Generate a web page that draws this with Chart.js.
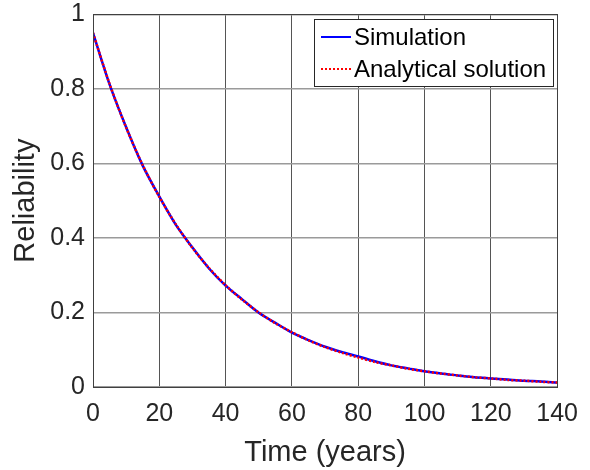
<!DOCTYPE html>
<html>
<head>
<meta charset="utf-8">
<script src="https://cdn.jsdelivr.net/npm/chart.js@4"></script>
<style>
  html, body { margin: 0; padding: 0; background: #fff; }
  #wrap { width: 590px; height: 470px; }
</style>
</head>
<body>
<div id="wrap"><canvas id="reliability-chart" width="590" height="470"></canvas></div>
<script>
const years = [0, 5, 10, 15, 20, 25, 30, 35, 40, 45, 50, 55, 60, 65, 70,
  75, 80, 85, 90, 95, 100, 105, 110, 115, 120, 125, 130, 135, 140];
const simulation = [0.950, 0.812, 0.697, 0.594, 0.511, 0.435, 0.374, 0.318, 0.272, 0.235, 0.199, 0.172, 0.146, 0.126, 0.108,
  0.094, 0.082, 0.069, 0.058, 0.050, 0.042, 0.036, 0.031, 0.026, 0.023, 0.020, 0.017, 0.015, 0.012];
const analytical = [0.950, 0.813, 0.696, 0.595, 0.510, 0.436, 0.373, 0.319, 0.273, 0.234, 0.200, 0.171, 0.147, 0.125, 0.107,
  0.092, 0.079, 0.067, 0.058, 0.049, 0.042, 0.036, 0.031, 0.026, 0.023, 0.019, 0.017, 0.014, 0.012];
const xTicks = [0, 20, 40, 60, 80, 100, 120, 140];
const yTicks = [0, 0.2, 0.4, 0.6, 0.8, 1];
const seriesNames = ['Simulation', 'Analytical solution'];

const textColor = '#262626';
const fontFamily = '"Liberation Sans", Arial, Helvetica, sans-serif';

const toPoints = (ys) => years.map((x, i) => ({ x, y: ys[i] }));

// box around the axes plus the legend in the upper right corner
const boxAndLegend = {
  id: 'boxAndLegend',
  afterDatasetsDraw(chart) {
    const { ctx, chartArea } = chart;
    ctx.save();
    ctx.strokeStyle = '#404040';
    ctx.lineWidth = 1;
    ctx.strokeRect(Math.round(chartArea.left) + 0.5, Math.round(chartArea.top) + 0.5,
      Math.round(chartArea.right - chartArea.left), Math.round(chartArea.bottom - chartArea.top));

    const right = Math.round(chartArea.right) - 4;
    const left = right - 239;
    const top = Math.round(chartArea.top) + 5;
    const h = 67;
    ctx.fillStyle = '#fff';
    ctx.fillRect(left, top, right - left, h);
    ctx.strokeStyle = '#262626';
    ctx.strokeRect(left + 0.5, top + 0.5, right - left, h);

    const rows = [
      { label: seriesNames[0], color: '#0000ff', dash: [] },
      { label: seriesNames[1], color: '#ff0000', dash: [2, 2] }
    ];
    ctx.font = '24px ' + fontFamily;
    ctx.textBaseline = 'middle';
    rows.forEach((row, i) => {
      const y = top + 18 + i * 32;
      ctx.beginPath();
      ctx.setLineDash(row.dash);
      ctx.strokeStyle = row.color;
      ctx.lineWidth = 2;
      ctx.moveTo(left + 7, y);
      ctx.lineTo(left + 37, y);
      ctx.stroke();
      ctx.setLineDash([]);
      ctx.fillStyle = '#000';
      ctx.fillText(row.label, left + 40, y + 1);
    });
    ctx.restore();
  }
};

new Chart(document.getElementById('reliability-chart').getContext('2d'), {
  type: 'line',
  data: {
    datasets: [
      {
        label: seriesNames[0],
        data: toPoints(simulation),
        borderColor: '#0000ff',
        borderWidth: 2.5,
        pointRadius: 0,
        tension: 0.3,
        order: 2
      },
      {
        label: seriesNames[1],
        data: toPoints(analytical),
        borderColor: '#ff0000',
        borderWidth: 2.5,
        borderDash: [2, 2],
        pointRadius: 0,
        tension: 0.3,
        order: 1
      }
    ]
  },
  options: {
    responsive: false,
    animation: false,
    layout: { padding: { left: 8, right: 32, top: 8, bottom: 0 } },
    plugins: {
      legend: { display: false },
      tooltip: { enabled: false }
    },
    scales: {
      x: {
        type: 'linear',
        min: 0,
        max: 140,
        afterBuildTicks: (scale) => { scale.ticks = xTicks.map(v => ({ value: v })); },
        afterFit: (scale) => { scale.height = 83; },
        grid: { color: '#555', lineWidth: 1, drawTicks: false },
        border: { color: '#404040' },
        ticks: {
          color: textColor,
          padding: 12,
          maxRotation: 0,
          font: { family: fontFamily, size: 25 }
        },
        title: {
          display: true,
          text: 'Time (years)',
          color: textColor,
          padding: { top: 0, bottom: 0 },
          font: { family: fontFamily, size: 29 }
        }
      },
      y: {
        min: 0,
        max: 1,
        afterBuildTicks: (scale) => { scale.ticks = yTicks.map(v => ({ value: v })); },
        afterFit: (scale) => { scale.width = 85; },
        grid: { color: '#9a9a9a', lineWidth: 1.5, drawTicks: false },
        border: { color: '#404040' },
        ticks: {
          color: textColor,
          padding: 8,
          font: { family: fontFamily, size: 25, lineHeight: 0.5 },
          callback: (v) => (v === 0 || v === 1) ? String(v) : v.toFixed(1)
        },
        title: {
          display: true,
          text: 'Reliability',
          color: textColor,
          padding: { top: 1, bottom: 0 },
          font: { family: fontFamily, size: 29 }
        }
      }
    }
  },
  plugins: [boxAndLegend]
});
</script>
</body>
</html>
